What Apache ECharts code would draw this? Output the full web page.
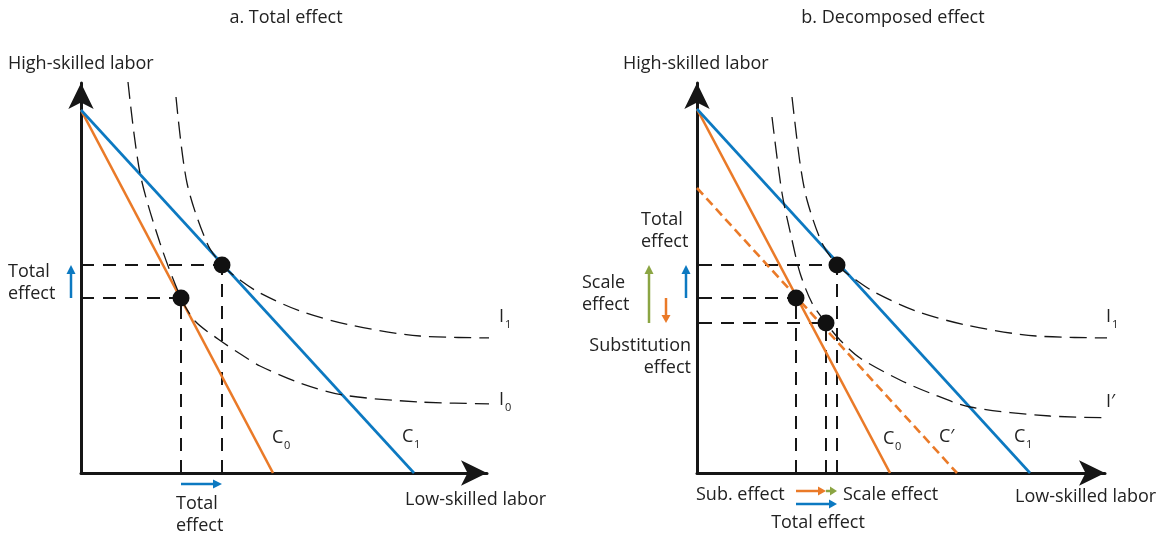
<!DOCTYPE html>
<html><head><meta charset="utf-8">
<script src="https://cdn.jsdelivr.net/npm/echarts@6/dist/echarts.min.js"></script>
<style>html,body{margin:0;padding:0;background:#fff}#c{width:1165px;height:533px}</style>
</head><body><div id="c"></div>
<script>
// ---------------- DATA (axis units, origin at axes corner) ----------------
const panelTitles = ['a. Total effect', 'b. Decomposed effect'];
const yAxisTitle = 'High-skilled labor';
const xAxisTitle = 'Low-skilled labor';
const axisMaxX = [406, 408];
const axisMaxY = [390, 390];

// Panel a
const aBudgetC0 = [[0, 363], [192, 0]];
const aBudgetC1 = [[0, 363], [333, 0]];
const aCurveI0 = [[47, 391], [59, 300], [79, 230], [100, 175], [114, 152], [137, 134], [161, 118], [179, 107], [219, 90], [262, 78], [339, 71], [419, 69]];
const aCurveI1 = [[95, 376], [106, 290], [126, 230], [141, 208], [159, 193], [179, 180], [219, 162], [269, 148], [339, 137], [427, 135]];
const aPointA = [100, 175];
const aPointB = [141, 208];

// Panel b
const bBudgetC0 = [[0, 364], [193, 0]];
const bBudgetCp = [[0, 285], [260, 0]];
const bBudgetC1 = [[0, 364], [333, 0]];
const bCurveI1 = [[95, 376], [103, 310], [110, 273], [125, 230], [140, 208], [159, 193], [179, 180], [219, 162], [269, 148], [339, 137], [428, 135]];
const bCurveIp = [[75, 356], [85, 280], [95, 233], [103, 200], [115, 170], [129, 150], [143, 133], [163, 115], [203, 93], [233, 80], [273, 66], [353, 57], [428, 55]];
const bPointA = [99, 175];
const bPointB = [140, 208];
const bPointC = [129, 150];

// ---------------- STYLE ----------------
const ORANGE = '#EA7A28', BLUE = '#0C79C1', GREEN = '#8BA543', INK = '#161616', TXT = '#222222';
const FONT = '"Open Sans", "Noto Sans", sans-serif';

const series = [];
function line(data, gi, color, width, type, z) {
  series.push({type: 'line', xAxisIndex: gi, yAxisIndex: gi, data: data, symbol: 'none', clip: false, silent: true,
    lineStyle: {color: color, width: width, type: type || 'solid'}, z: z || 2, animation: false});
}
function smoothCurve(data, gi) {
  series.push({type: 'line', xAxisIndex: gi, yAxisIndex: gi, data: data, symbol: 'none', clip: false, silent: true,
    smooth: 0.3,
    lineStyle: {color: INK, width: 1.3, type: [17, 8]}, z: 3, animation: false});
}
function guideH(p, x0, gi) { line([[x0, p[1]], p], gi, INK, 2, [13, 9], 1); }
function guideV(p, gi) { line([[p[0], 0], p], gi, INK, 2, [13, 9], 1); }
function points(data, gi) {
  series.push({type: 'scatter', xAxisIndex: gi, yAxisIndex: gi, data: data, symbolSize: 17, clip: false, silent: true,
    itemStyle: {color: '#111111', opacity: 1}, z: 5, animation: false});
}
function arrow(from, to, gi, color, hl, hw, w) {
  series.push({type: 'custom', xAxisIndex: gi, yAxisIndex: gi, data: [[from[0], from[1], to[0], to[1]]], silent: true, z: 4, animation: false,
    renderItem: function (params, api) {
      const p1 = api.coord([api.value(0), api.value(1)]);
      const p2 = api.coord([api.value(2), api.value(3)]);
      const dx = p2[0] - p1[0], dy = p2[1] - p1[1];
      const len = Math.sqrt(dx * dx + dy * dy) || 1;
      const ux = dx / len, uy = dy / len;
      const b = [p2[0] - ux * hl, p2[1] - uy * hl];
      return {type: 'group', children: [
        {type: 'line', shape: {x1: p1[0], y1: p1[1], x2: b[0] + ux, y2: b[1] + uy}, style: {stroke: color, lineWidth: w || 2.5}},
        {type: 'polygon', shape: {points: [p2, [b[0] - uy * hw, b[1] + ux * hw], [b[0] + uy * hw, b[1] - ux * hw]]}, style: {fill: color}}
      ]};
    }});
}

// ----- Panel a -----
guideH(aPointA, 0, 0); guideH(aPointB, 0, 0);
guideV(aPointA, 0); guideV(aPointB, 0);
line(aBudgetC0, 0, ORANGE, 2.6, 'solid', 2);
line(aBudgetC1, 0, BLUE, 2.6, 'solid', 2);
smoothCurve(aCurveI0, 0); smoothCurve(aCurveI1, 0);
points([aPointA, aPointB], 0);
arrow([-10, aPointA[1]], [-10, aPointB[1]], 0, BLUE, 9, 4.5);
arrow([aPointA[0], -11], [aPointB[0], -11], 0, BLUE, 9, 4.5);

// ----- Panel b -----
guideH(bPointB, -42, 1); guideH(bPointA, -42, 1); guideH(bPointC, -42, 1);
guideV(bPointA, 1); guideV(bPointC, 1); guideV(bPointB, 1);
line(bBudgetC0, 1, ORANGE, 2.6, 'solid', 2);
line(bBudgetCp, 1, ORANGE, 2.6, [9, 5], 2);
line(bBudgetC1, 1, BLUE, 2.6, 'solid', 2);
smoothCurve(bCurveI1, 1); smoothCurve(bCurveIp, 1);
points([bPointA, bPointB, bPointC], 1);
arrow([-48, bPointC[1]], [-48, bPointB[1]], 1, GREEN, 9, 4.5);
arrow([-31, bPointA[1]], [-31, bPointC[1]], 1, ORANGE, 8, 4.5);
arrow([-11, bPointA[1]], [-11, bPointB[1]], 1, BLUE, 9, 4.5);
arrow([bPointA[0], -18], [bPointC[0], -18], 1, ORANGE, 8, 4.5);
arrow([bPointC[0], -18], [bPointB[0], -18], 1, GREEN, 7, 4.5);
arrow([bPointA[0], -31], [bPointB[0], -31], 1, BLUE, 8, 4.5);

// ---------------- TEXT ----------------
const graphics = [];
function T(x, y, text, size, align) {
  graphics.push({type: 'text', x: x, y: y, silent: true, z: 10,
    style: {text: text, font: size + 'px ' + FONT, fill: TXT, align: align || 'left', verticalAlign: 'middle',
      textAlign: align || 'left', textVerticalAlign: 'middle'}});
}
function S(x, y, main, sub, off) { T(x, y, main, 18); T(x + off, y + 8, sub, 11); }

const FS = 18;
T(286, 18, panelTitles[0], FS, 'center');
T(893, 18, panelTitles[1], FS, 'center');
T(8, 64, yAxisTitle, FS); T(623, 64, yAxisTitle, FS);
T(405, 500, xAxisTitle, FS); T(1015, 497, xAxisTitle, FS);
// panel a labels
T(8, 272, 'Total', FS); T(8, 294, 'effect', FS);
T(176, 504, 'Total', FS); T(176, 526, 'effect', FS);
S(272, 438, 'C', '0', 12); S(402, 437, 'C', '1', 12);
S(499, 317, 'I', '1', 6); S(499, 400, 'I', '0', 6);
// panel b labels
T(641, 220, 'Total', FS); T(641, 242, 'effect', FS);
T(582, 283, 'Scale', FS); T(582, 305, 'effect', FS);
T(691, 346, 'Substitution', FS, 'right'); T(691, 368, 'effect', FS, 'right');
T(696, 495, 'Sub. effect', FS); T(843, 495, 'Scale effect', FS);
T(818, 523, 'Total effect', FS, 'center');
S(883, 439, 'C', '0', 12); T(939, 437, 'C\u2032', 18); S(1014, 437, 'C', '1', 12);
S(1106, 317, 'I', '1', 6); T(1106, 402, 'I\u2032', 18);

function axisCfg(i, max) {
  return {type: 'value', gridIndex: i, min: 0, max: max,
    axisLine: {show: true, onZero: false, symbol: ['none', 'arrow'], symbolSize: [19, 26], symbolOffset: [0, 0],
      lineStyle: {color: INK, width: 3}},
    axisTick: {show: false}, axisLabel: {show: false}, splitLine: {show: false}};
}

const chart = echarts.init(document.getElementById('c'), null, {renderer: 'canvas'});
chart.setOption({
  backgroundColor: '#ffffff',
  animation: false,
  grid: [
    {left: 81, top: 83, width: axisMaxX[0], height: axisMaxY[0]},
    {left: 697, top: 83, width: axisMaxX[1], height: axisMaxY[1]}
  ],
  xAxis: [axisCfg(0, axisMaxX[0]), axisCfg(1, axisMaxX[1])],
  yAxis: [axisCfg(0, axisMaxY[0]), axisCfg(1, axisMaxY[1])],
  series: series,
  graphic: graphics
});
</script></body></html>
